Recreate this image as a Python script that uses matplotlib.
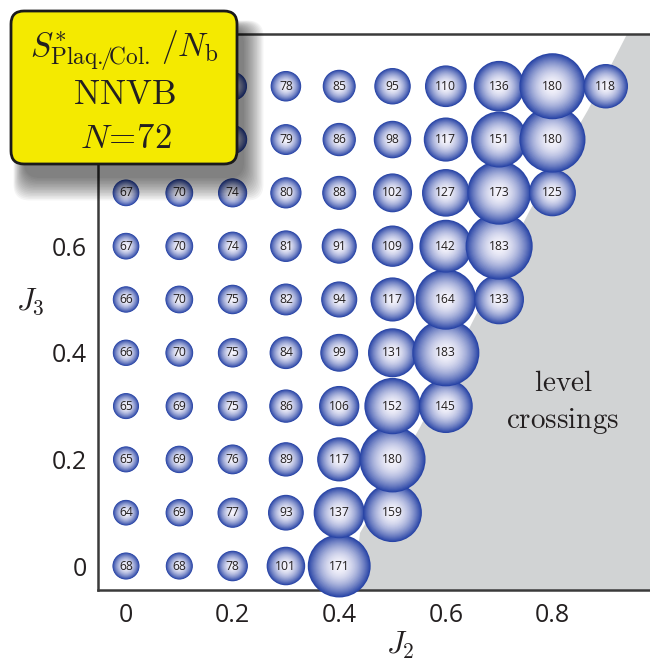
import numpy as np
import matplotlib
matplotlib.use('Agg')
import matplotlib.pyplot as plt
from matplotlib.patches import Circle, Polygon, FancyBboxPatch
from matplotlib.colors import to_rgb


OUTPUT_IMAGE = 'out.png'

# grid of couplings
J2_VALUES = [0.0, 0.1, 0.2, 0.3, 0.4, 0.5, 0.6, 0.7, 0.8, 0.9]
J3_VALUES = [0.0, 0.1, 0.2, 0.3, 0.4, 0.5, 0.6, 0.7, 0.8, 0.9]

# S*/Nb values, one row per J3 (starting at J2 = 0)
ROW_J3_00 = [68, 68, 78, 101, 171]
ROW_J3_01 = [64, 69, 77, 93, 137, 159]
ROW_J3_02 = [65, 69, 76, 89, 117, 180]
ROW_J3_03 = [65, 69, 75, 86, 106, 152, 145]
ROW_J3_04 = [66, 70, 75, 84, 99, 131, 183]
ROW_J3_05 = [66, 70, 75, 82, 94, 117, 164, 133]
ROW_J3_06 = [67, 70, 74, 81, 91, 109, 142, 183]
ROW_J3_07 = [67, 70, 74, 80, 88, 102, 127, 173, 125]
ROW_J3_08 = [67, 70, 74, 79, 86, 98, 117, 151, 180]
ROW_J3_09 = [67, 70, 73, 78, 85, 95, 110, 136, 180, 118]
ROWS = [ROW_J3_00, ROW_J3_01, ROW_J3_02, ROW_J3_03, ROW_J3_04,
        ROW_J3_05, ROW_J3_06, ROW_J3_07, ROW_J3_08, ROW_J3_09]

# points whose numbers sit under the label box (not readable in the figure)
HIDDEN_POINTS = [(0.0, 0.8), (0.1, 0.8), (0.2, 0.8), (0.0, 0.9), (0.1, 0.9), (0.2, 0.9)]

# edge of the level-crossing region (J2, J3)
CROSSING_J2 = [0.425, 0.439, 0.552, 0.649, 0.758, 0.867, 0.940, 0.96]
CROSSING_J3 = [-0.06, 0.062, 0.261, 0.456, 0.668, 0.856, 0.998, 1.05]

X_TICKS = [0, 0.2, 0.4, 0.6, 0.8]
X_TICK_LABELS = ['0', '0.2', '0.4', '0.6', '0.8']
Y_TICKS = [0, 0.2, 0.4, 0.6]
Y_TICK_LABELS = ['0', '0.2', '0.4', '0.6']

EDGE_BLUE = to_rgb('#2844a6')
CENTER_WHITE = to_rgb('#f7f5fc')
GRAY = '#d1d3d4'
INK = '#231f20'

plt.rcParams['mathtext.fontset'] = 'cm'
plt.rcParams['font.family'] = ['Open Sans', 'DejaVu Sans']

fig = plt.figure(figsize=(6.5, 6.61), dpi=100)
ax = fig.add_axes([98 / 650, 71 / 661, 552 / 650, 556 / 661])
ax.set_xlim(-0.0525, 0.983)
ax.set_ylim(-0.045, 0.998)

# level crossing region
poly_pts = list(zip(CROSSING_J2, CROSSING_J3)) + [(1.2, 1.05), (1.2, -0.06)]
ax.add_patch(Polygon(poly_pts, closed=True, facecolor=GRAY, edgecolor='none', zorder=1))


def draw_bubble(ax, x, y, value, show_label=True):
    # radius grows roughly linearly with the entropy value (pixels -> data)
    r = (0.174 * value + 1.7) / 533.0
    n = 30
    for k in range(n, 0, -1):
        t = k / n
        f = t ** 1.9
        col = tuple(CENTER_WHITE[i] + (EDGE_BLUE[i] - CENTER_WHITE[i]) * f for i in range(3))
        ax.add_patch(Circle((x, y), r * t, facecolor=col, edgecolor='none',
                            zorder=3, clip_on=False))
    if show_label:
        ax.text(x, y, str(value), ha='center', va='center', fontsize=8.7,
                color=INK, zorder=4)


for j3, row in zip(J3_VALUES, ROWS):
    for j2, val in zip(J2_VALUES, row):
        draw_bubble(ax, j2, j3, val, show_label=(j2, j3) not in HIDDEN_POINTS)

ax.text(0.82, 0.343, r'$\mathrm{level}$', ha='center', va='center', fontsize=21, color=INK, zorder=2)
ax.text(0.82, 0.272, r'$\mathrm{crossings}$', ha='center', va='center', fontsize=21, color=INK, zorder=2)

for side in ['left', 'bottom', 'top']:
    ax.spines[side].set_color('#3b3b3b')
    ax.spines[side].set_linewidth(1.8)
ax.spines['right'].set_visible(False)

ax.set_xticks(X_TICKS)
ax.set_xticklabels(X_TICK_LABELS)
ax.set_yticks(Y_TICKS)
ax.set_yticklabels(Y_TICK_LABELS)
ax.tick_params(axis='both', length=0, labelsize=18, labelcolor=INK)
ax.tick_params(axis='x', pad=9)
ax.tick_params(axis='y', pad=8)

fig.text(400 / 650, 1 - 645 / 661, r'$J_2$', ha='center', va='center', fontsize=22, color=INK)
fig.text(30 / 650, 1 - 302 / 661, r'$J_3$', ha='center', va='center', fontsize=22, color=INK)

# yellow label box with soft shadow, drawn on an overlay in pixel units
ov = fig.add_axes([0, 0, 1, 1])
ov.set_xlim(0, 650)
ov.set_ylim(661, 0)
ov.axis('off')
for i in range(16):
    grow = i * 2.0
    ov.add_patch(FancyBboxPatch((24 - grow * 0.35, 28 - grow * 0.25), 220 + grow, 150 + grow,
                                boxstyle='round,pad=0,rounding_size=16',
                                facecolor='black', edgecolor='none', alpha=0.04, zorder=5))
ov.add_patch(FancyBboxPatch((11, 11), 226, 153, boxstyle='round,pad=0,rounding_size=13',
                            facecolor='#f4ea00', edgecolor='#1a1a1a', linewidth=2, zorder=6))
ov.text(124, 51, r'$S^{*}_{\mathrm{Plaq.}\!\!/\!\mathrm{Col.}}\,/N_{\mathrm{b}}$', ha='center',
        va='center', fontsize=24, color=INK, zorder=7)
ov.text(124, 95, r'$\mathrm{NNVB}$', ha='center', va='center', fontsize=25, color=INK, zorder=7)
ov.text(126, 139, r'$N\!=\!72$', ha='center', va='center', fontsize=25, color=INK, zorder=7)

fig.savefig(OUTPUT_IMAGE, dpi=100)
